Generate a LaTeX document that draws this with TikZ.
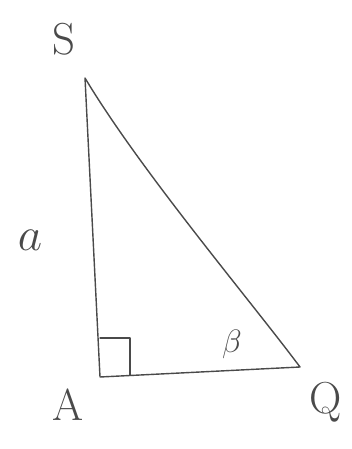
\documentclass[tikz,border=0pt]{standalone}
\usepackage{amsmath,amssymb}
\usepackage{graphicx}
\usetikzlibrary{calc}
\definecolor{pencil}{HTML}{4A4A4A}

\begin{document}
\begin{tikzpicture}[
  x=1pt,y=-1pt,
  lbl/.style={text=pencil,font=\Huge,inner sep=0pt},
  edge/.style={draw=pencil,line width=1.4pt,line cap=round,line join=round}
]
\useasboundingbox (0,0) rectangle (351,449);
% --- vertices ------------------------------------------------------------
\coordinate (S) at (85,78);
\coordinate (A) at (100,377);
\coordinate (Q) at (300,367);
% --- triangle ------------------------------------------------------------
\draw[edge] (S) -- (A) -- (Q) .. controls (250,300) and (140,170) .. (S);
% right angle mark
\coordinate (r1) at ($(A)+(0,-39)$);
\coordinate (r2) at ($(A)+(30,-39)$);
\coordinate (r3) at ($(A)+(30,-2)$);
\draw[edge,line width=1.2pt] (r1) -- (r2) -- (r3);
% --- labels --------------------------------------------------------------
\node[lbl] (lS) at (64,39) {\scalebox{1.8}{S}};
\node[lbl] (la) at (30,240) {\scalebox{1.9}{$a$}};
\node[lbl] (lA) at (68,405) {\scalebox{1.8}{A}};
\node[lbl] (lQ) at (326,402) {\scalebox{1.8}{Q}};
\node[lbl] (lb) at (232,344) {\scalebox{1.3}{$\beta$}};
\end{tikzpicture}
\end{document}
